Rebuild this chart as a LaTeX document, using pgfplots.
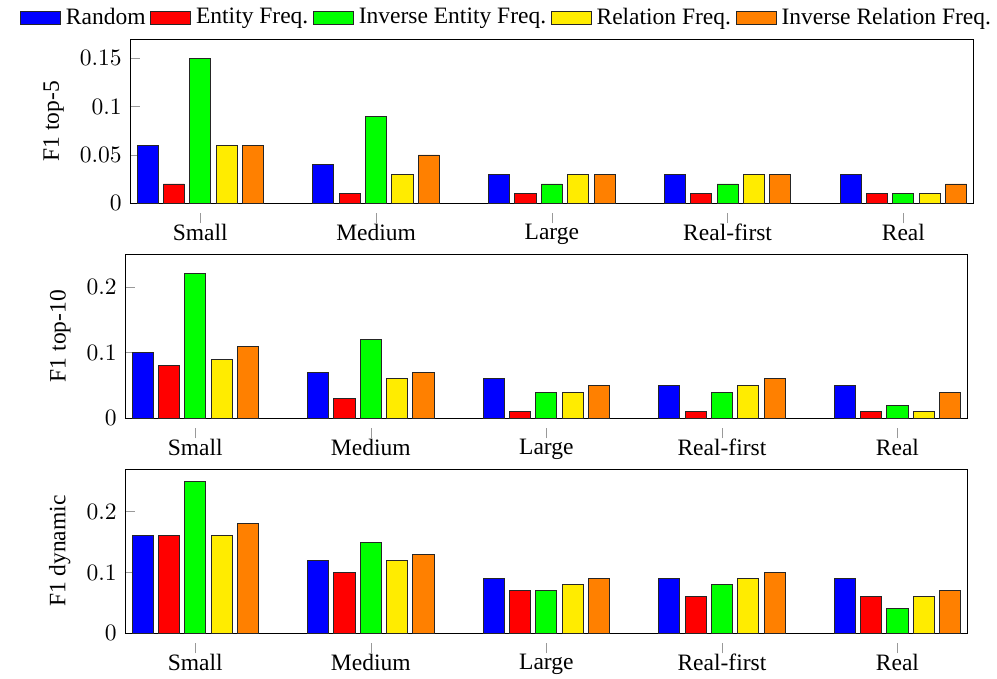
\documentclass[border=0pt]{standalone}
\usepackage[no-math]{fontspec}
\setmainfont{Liberation Serif}
\usepackage{pgfplots}
\usepackage{pgfplotstable}
\pgfplotsset{compat=1.18}
\definecolor{cblue}{RGB}{0,0,255}
\definecolor{cred}{RGB}{255,0,0}
\definecolor{cgreen}{RGB}{0,255,0}
\definecolor{cyellow}{RGB}{255,236,0}
\definecolor{corange}{RGB}{255,128,0}
\def\u{0.4255pt}

\pgfplotstableread{
x a b c d e
0 0.06 0.02 0.15 0.06 0.06
1 0.04 0.01 0.09 0.03 0.05
2 0.03 0.01 0.02 0.03 0.03
3 0.03 0.01 0.02 0.03 0.03
4 0.03 0.01 0.01 0.01 0.02
}\topfive
\pgfplotstableread{
x a b c d e
0 0.10 0.08 0.22 0.09 0.11
1 0.07 0.03 0.12 0.06 0.07
2 0.06 0.01 0.04 0.04 0.05
3 0.05 0.01 0.04 0.05 0.06
4 0.05 0.01 0.02 0.01 0.04
}\topten
\pgfplotstableread{
x a b c d e
0 0.16 0.16 0.25 0.16 0.18
1 0.12 0.10 0.15 0.12 0.13
2 0.09 0.07 0.07 0.08 0.09
3 0.09 0.06 0.08 0.09 0.10
4 0.09 0.06 0.04 0.06 0.07
}\dyn

\pgfplotsset{
  mybar/.style={
    scale only axis, ybar, area legend,
    bar width=0.12, ymin=0, xmin=-0.4, xmax=4.4,
    xtick={0,1,2,3,4}, xticklabels={Small,Medium,Large,Real-first,Real},
    xtick pos=bottom, ytick pos=left,
    major tick style={gray!80},
    xtick style={yshift=-0.15cm},
    xticklabel style={yshift=-1pt},
    anchor=north west,
  },
}

\begin{document}
\begin{tikzpicture}
\begin{axis}[mybar,
  at={(130*\u,-39*\u)}, width=843.7*\u, height=164.3*\u,
  ymax=0.17, ytick={0,0.05,0.1,0.15}, yticklabels={$0$,$0.05$,$0.1$,$0.15$},
  ylabel={F1 top-5},
  legend columns=-1,
  legend style={at={(0.448,1.129)}, anchor=center, draw=none, fill=none},
]
\addplot[fill=cblue, draw=black!85, bar shift=-0.3] table[x=x,y=a]{\topfive};
\addplot[fill=cred, draw=black!85, bar shift=-0.15] table[x=x,y=b]{\topfive};
\addplot[fill=cgreen, draw=black!85, bar shift=0] table[x=x,y=c]{\topfive};
\addplot[fill=cyellow, draw=black!85, bar shift=0.15] table[x=x,y=d]{\topfive};
\addplot[fill=corange, draw=black!85, bar shift=0.3] table[x=x,y=e]{\topfive};
\legend{Random, Entity Freq., Inverse Entity Freq., Relation Freq., Inverse Relation Freq.}
\end{axis}

\begin{axis}[mybar,
  at={(125*\u,-254*\u)}, width=842.7*\u, height=164.3*\u,
  ymax=0.25, ytick={0,0.1,0.2}, yticklabels={$0$,$0.1$,$0.2$},
  ylabel={F1 top-10},
]
\addplot[fill=cblue, draw=black!85, bar shift=-0.3] table[x=x,y=a]{\topten};
\addplot[fill=cred, draw=black!85, bar shift=-0.15] table[x=x,y=b]{\topten};
\addplot[fill=cgreen, draw=black!85, bar shift=0] table[x=x,y=c]{\topten};
\addplot[fill=cyellow, draw=black!85, bar shift=0.15] table[x=x,y=d]{\topten};
\addplot[fill=corange, draw=black!85, bar shift=0.3] table[x=x,y=e]{\topten};
\end{axis}

\begin{axis}[mybar,
  at={(125*\u,-469*\u)}, width=842.7*\u, height=164.3*\u,
  ymax=0.27, ytick={0,0.1,0.2}, yticklabels={$0$,$0.1$,$0.2$},
  ylabel={F1 dynamic},
]
\addplot[fill=cblue, draw=black!85, bar shift=-0.3] table[x=x,y=a]{\dyn};
\addplot[fill=cred, draw=black!85, bar shift=-0.15] table[x=x,y=b]{\dyn};
\addplot[fill=cgreen, draw=black!85, bar shift=0] table[x=x,y=c]{\dyn};
\addplot[fill=cyellow, draw=black!85, bar shift=0.15] table[x=x,y=d]{\dyn};
\addplot[fill=corange, draw=black!85, bar shift=0.3] table[x=x,y=e]{\dyn};
\end{axis}

\pgfresetboundingbox
\path (0,0) rectangle (997*\u,-679*\u);
\end{tikzpicture}
\end{document}
